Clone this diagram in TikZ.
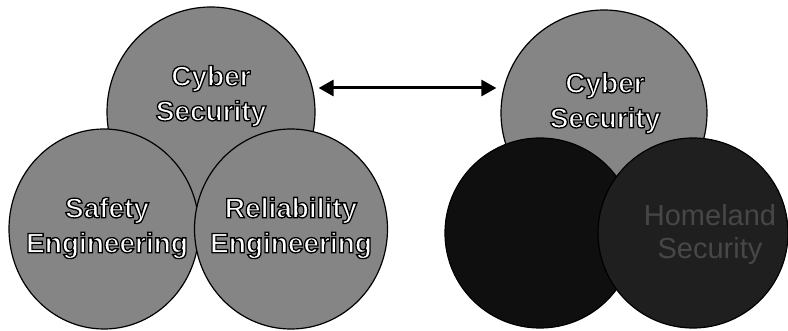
\documentclass[tikz,border=0pt]{standalone}
\usepackage{fontspec}
\setmainfont{Liberation Sans}
\usetikzlibrary{arrows.meta,shapes.geometric}
\tikzset{
    area/.style={ellipse,draw=black,line width=1.2pt,fill=black!48,inner sep=0pt},
    darkarea/.style={area,fill=black!94},
    areatext/.style={align=center,text=white,font=\bfseries\fontsize{28}{35}\selectfont},
    fainttext/.style={align=center,text=black!72,font=\fontsize{29}{33}\selectfont}
}
\newcommand{\outl}[1]{\special{pdf:code 0 0 0 RG 1.3 w 2 Tr}#1\special{pdf:code 0 Tr}}

\begin{document}
\begin{tikzpicture}[x=1pt,y=-1pt,>={Triangle[length=15pt,width=16pt]}]
        \useasboundingbox (0,0) rectangle (788,331);
        \node [area,minimum width=208pt,minimum height=210pt] (cyberL) at (211,112) {};
        \node [area,minimum width=190pt,minimum height=200pt] (safety) at (104,229) {};
        \node [area,minimum width=193pt,minimum height=200pt] (reliab) at (291,229) {};
        \path (211,96) node [areatext] (cyberLtext) {\outl{Cyber}\\\outl{Security}};
        \path (107,228) node [areatext] (safetytext) {\outl{Safety}\\\outl{Engineering}};
        \path (291,228) node [areatext] (reliabtext) {\outl{Reliability}\\\outl{Engineering}};
        \node [area,minimum width=206pt,minimum height=206pt] (cyberR) at (604,113) {};
        \path (605,103) node [areatext] (cyberRtext) {\outl{Cyber}\\\outl{Security}};
        \node [darkarea,minimum width=190pt,minimum height=190pt] (darkL) at (540,233) {};
        \node [darkarea,fill=black!88,minimum width=190pt,minimum height=190pt] (homeland) at (693,233) {};
        \path (710,235) node [fainttext] (homelandtext) {Homeland\\Security};
        \draw [<->,line width=3pt] ([xshift=3pt,yshift=24pt]cyberL.east) -- ([xshift=-4pt,yshift=25pt]cyberR.west);
    \end{tikzpicture}
\end{document}
